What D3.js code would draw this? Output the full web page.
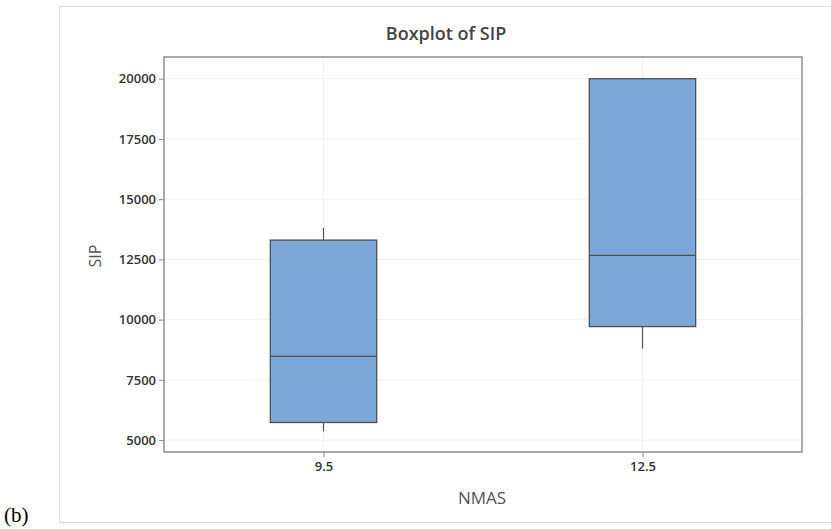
<!DOCTYPE html>
<html>
<head>
<meta charset="utf-8">
<script src="https://cdn.jsdelivr.net/npm/d3@7"></script>
<style>
  body { margin: 0; background: #fff; }
  svg { display: block; font-family: "Open Sans", sans-serif; }
</style>
</head>
<body>
<div id="chart"></div>
<script>
// values
const groups = ['9.5', '12.5'];
const whiskerLow  = [5360, 8800];
const q1          = [5730, 9710];
const median      = [8470, 12670];
const q3          = [13300, 20000];
const whiskerHigh = [13800, 20000];
const yTicks = [5000, 7500, 10000, 12500, 15000, 17500, 20000];

const width = 831, height = 529;
const plot = { left: 164, top: 57, right: 802, bottom: 452 };

const svg = d3.select('#chart').append('svg')
    .attr('width', width)
    .attr('height', height);

// outer frame (runs off the right edge in the original)
svg.append('rect')
    .attr('x', 59.5).attr('y', 6.5)
    .attr('width', 790).attr('height', 516)
    .attr('fill', 'none')
    .attr('stroke', '#dcdcdc');

const x = d3.scalePoint()
    .domain(groups)
    .range([plot.left, plot.right])
    .padding(0.5);

const y = d3.scaleLinear()
    .domain([4505, 20900])
    .range([plot.bottom, plot.top]);

const boxWidth = x.step() / 3;

// gridlines
const grid = svg.append('g');
grid.selectAll('.hgrid')
    .data(yTicks)
    .join('line')
    .attr('x1', plot.left).attr('x2', plot.right)
    .attr('y1', d => y(d)).attr('y2', d => y(d))
    .attr('stroke', '#f0f0f0');
grid.selectAll('.vgrid')
    .data(groups)
    .join('line')
    .attr('x1', d => x(d)).attr('x2', d => x(d))
    .attr('y1', plot.top).attr('y2', plot.bottom)
    .attr('stroke', '#f0f0f0');

// axes
const yAxis = svg.append('g')
    .attr('transform', `translate(${plot.left}, 0)`)
    .call(d3.axisLeft(y).tickValues(yTicks).tickSize(5).tickPadding(3).tickFormat(d3.format('d')));
const xAxis = svg.append('g')
    .attr('transform', `translate(0, ${plot.bottom})`)
    .call(d3.axisBottom(x).tickSize(5).tickPadding(5));

[yAxis, xAxis].forEach(a => {
    a.select('.domain').remove();
    a.selectAll('.tick line').attr('stroke', '#888');
    a.selectAll('.tick text')
        .attr('fill', '#333')
        .style('font-size', '13px')
        .style('font-weight', 600)
        .style('font-family', '"Open Sans", sans-serif');
});

// plot border
svg.append('rect')
    .attr('x', plot.left).attr('y', plot.top)
    .attr('width', plot.right - plot.left)
    .attr('height', plot.bottom - plot.top)
    .attr('fill', 'none')
    .attr('stroke', '#8f8f8f')
    .attr('stroke-width', 1.5);

// boxes
const boxes = svg.append('g')
    .selectAll('g')
    .data(groups.map((g, i) => ({ g, lo: whiskerLow[i], q1: q1[i], med: median[i], q3: q3[i], hi: whiskerHigh[i] })))
    .join('g');

boxes.append('line')
    .attr('x1', d => x(d.g)).attr('x2', d => x(d.g))
    .attr('y1', d => y(d.lo)).attr('y2', d => y(d.q1))
    .attr('stroke', '#505050').attr('stroke-width', 1.2);
boxes.append('line')
    .attr('x1', d => x(d.g)).attr('x2', d => x(d.g))
    .attr('y1', d => y(d.hi)).attr('y2', d => y(d.q3))
    .attr('stroke', '#505050').attr('stroke-width', 1.2);
boxes.append('rect')
    .attr('x', d => x(d.g) - boxWidth / 2)
    .attr('y', d => y(d.q3))
    .attr('width', boxWidth)
    .attr('height', d => y(d.q1) - y(d.q3))
    .attr('fill', '#7ba7d9')
    .attr('stroke', '#505050')
    .attr('stroke-width', 1.3);
boxes.append('line')
    .attr('x1', d => x(d.g) - boxWidth / 2).attr('x2', d => x(d.g) + boxWidth / 2)
    .attr('y1', d => y(d.med)).attr('y2', d => y(d.med))
    .attr('stroke', '#505050').attr('stroke-width', 1.3);

// titles
svg.append('text')
    .attr('x', 446).attr('y', 40)
    .attr('text-anchor', 'middle')
    .attr('fill', '#444')
    .style('font-size', '18px')
    .style('font-weight', 600)
    .text('Boxplot of SIP');

svg.append('text')
    .attr('x', 482).attr('y', 504)
    .attr('text-anchor', 'middle')
    .attr('fill', '#555')
    .style('font-size', '17px')
    .text('NMAS');

svg.append('text')
    .attr('transform', 'translate(101, 256) rotate(-90)')
    .attr('text-anchor', 'middle')
    .attr('fill', '#555')
    .style('font-size', '16px')
    .text('SIP');

svg.append('text')
    .attr('x', 4).attr('y', 522)
    .attr('fill', '#000')
    .style('font-family', '"Liberation Serif", serif')
    .style('font-size', '21px')
    .text('(b)');
</script>
</body>
</html>
